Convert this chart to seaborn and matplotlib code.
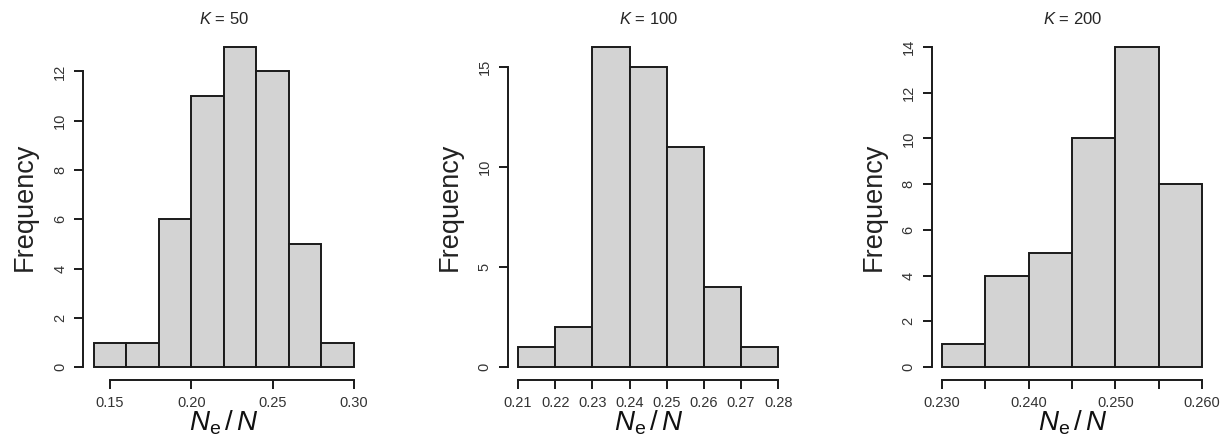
import matplotlib
matplotlib.use("Agg")
import matplotlib.pyplot as plt
import seaborn as sns
import pandas as pd

# bin edges and counts
edges_50 = [0.14, 0.16, 0.18, 0.20, 0.22, 0.24, 0.26, 0.28, 0.30]
counts_50 = [1, 1, 6, 11, 13, 12, 5, 1]
edges_100 = [0.21, 0.22, 0.23, 0.24, 0.25, 0.26, 0.27, 0.28]
counts_100 = [1, 2, 16, 15, 11, 4, 1]
edges_200 = [0.230, 0.235, 0.240, 0.245, 0.250, 0.255, 0.260]
counts_200 = [1, 4, 5, 10, 14, 8]

k_values = ["50", "100", "200"]

xticks_50 = [0.15, 0.20, 0.25, 0.30]
xlabels_50 = ["0.15", "0.20", "0.25", "0.30"]
xticks_100 = [0.21, 0.22, 0.23, 0.24, 0.25, 0.26, 0.27, 0.28]
xlabels_100 = ["0.21", "0.22", "0.23", "0.24", "0.25", "0.26", "0.27", "0.28"]
xticks_200 = [0.230, 0.235, 0.240, 0.245, 0.250, 0.255, 0.260]
xlabels_200 = ["0.230", "", "0.240", "", "0.250", "", "0.260"]

yticks_50 = [0, 2, 4, 6, 8, 10, 12]
yticks_100 = [0, 5, 10, 15]
yticks_200 = [0, 2, 4, 6, 8, 10, 12, 14]

sns.set_style("ticks")
plt.rcParams["font.family"] = ["Liberation Sans", "DejaVu Sans"]
plt.rcParams["mathtext.fontset"] = "custom"
plt.rcParams["mathtext.rm"] = "Liberation Sans"
plt.rcParams["mathtext.it"] = "Liberation Sans:italic"

panels = [
    (edges_50, counts_50, xticks_50, xlabels_50, yticks_50),
    (edges_100, counts_100, xticks_100, xlabels_100, yticks_100),
    (edges_200, counts_200, xticks_200, xlabels_200, yticks_200),
]
lefts = [83.3 / 1225, 507.6 / 1225, 931.6 / 1225]

fig = plt.figure(figsize=(12.25, 4.4), dpi=100)

for i, (edges, counts, xt, xl, yt) in enumerate(panels):
    ax = fig.add_axes([lefts[i], 60 / 440, 281 / 1225, 346 / 440])
    df = pd.DataFrame({
        "mid": [(a + b) / 2 for a, b in zip(edges[:-1], edges[1:])],
        "n": counts,
    })
    sns.histplot(data=df, x="mid", weights="n", bins=edges, ax=ax,
                 color="#d3d3d3", edgecolor="#1a1a1a", linewidth=1.4, alpha=1)

    # R style: 4% padding around the data range
    span = edges[-1] - edges[0]
    ax.set_xlim(edges[0] - 0.04 * span, edges[-1] + 0.04 * span)
    top = max(counts)
    ax.set_ylim(-0.04 * top, top * 1.04)

    ax.set_xticks(xt)
    ax.set_xticklabels(xl)
    ax.set_yticks(yt)
    ax.set_yticklabels([str(v) for v in yt], rotation=90, va="center")

    for s in ["top", "right"]:
        ax.spines[s].set_visible(False)
    ax.spines["left"].set_bounds(yt[0], yt[-1])
    ax.spines["bottom"].set_bounds(xt[0], xt[-1])
    for s in ["left", "bottom"]:
        ax.spines[s].set_linewidth(1.4)
        ax.spines[s].set_color("#1a1a1a")

    ax.tick_params(axis="both", direction="out", length=6.5, width=1.4,
                   color="#1a1a1a", labelsize=10.5, labelcolor="#333333", pad=5)

    ax.set_title(rf"$K$ = {k_values[i]}", fontsize=12, pad=7.5)
    ax.set_xlabel(r"$N_{\mathrm{e}}\,/\,N$", fontsize=20, labelpad=-1,
                  color="#111111")
    ax.set_ylabel("Frequency", fontsize=19.5, labelpad=11, color="#222222")

plt.savefig("out.png", dpi=100)
